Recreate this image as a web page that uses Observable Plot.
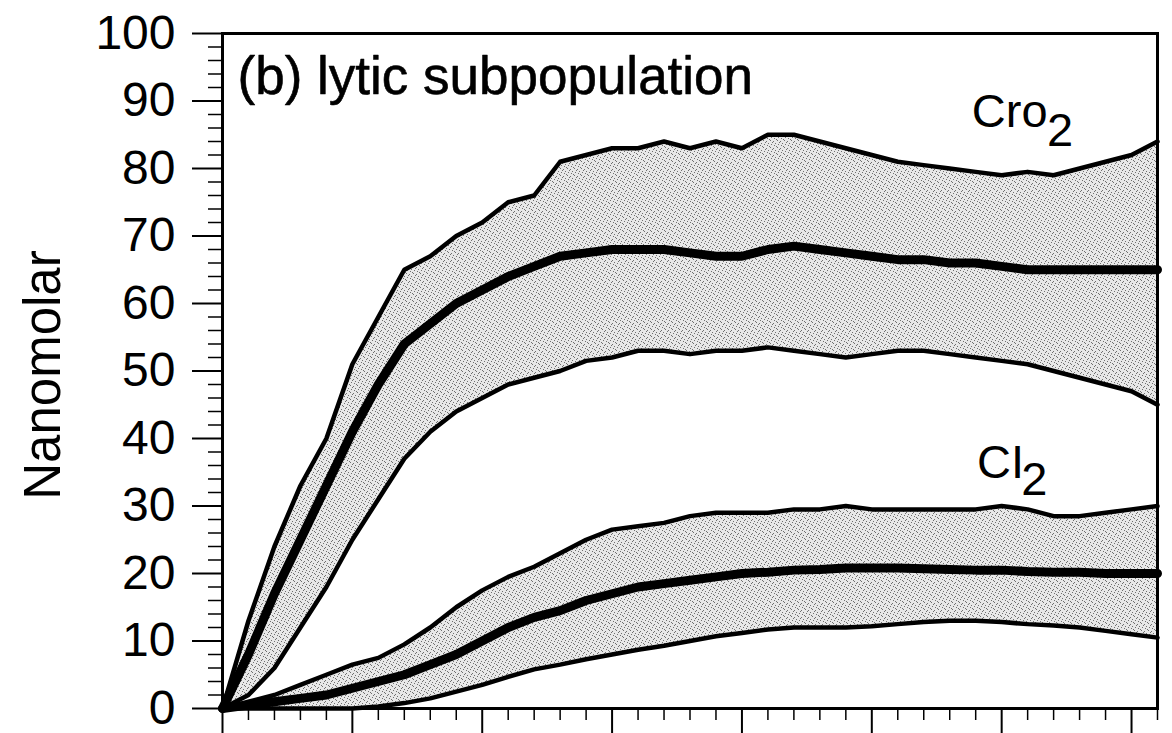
<!DOCTYPE html>
<html>
<head>
<meta charset="utf-8">
<script src="https://cdn.jsdelivr.net/npm/d3@7"></script>
<script src="https://cdn.jsdelivr.net/npm/@observablehq/plot@0.6"></script>
<style>
  html, body { margin: 0; padding: 0; background: #fff; }
  #chart { width: 1172px; height: 733px; }
</style>
</head>
<body>
<div id="chart"></div>
<script>
// time steps (arbitrary units, major tick every 5)
const time = d3.range(0, 37);

// Cro2 envelope (nM)
const croUpper = [0, 13, 24, 33, 40, 51, 58, 65, 67, 70, 72, 75, 76, 81, 82, 83, 83, 84, 83, 84, 83, 85, 85, 84, 83, 82, 81, 80.5, 80, 79.5, 79, 79.5, 79, 80, 81, 82, 84];
const croMean  = [0, 8, 17, 25, 33, 41, 48, 54, 57, 60, 62, 64, 65.5, 67, 67.5, 68, 68, 68, 67.5, 67, 67, 68, 68.5, 68, 67.5, 67, 66.5, 66.5, 66, 66, 65.5, 65, 65, 65, 65, 65, 65];
const croLower = [0, 2, 6, 12, 18, 25, 31, 37, 41, 44, 46, 48, 49, 50, 51.5, 52, 53, 53, 52.5, 53, 53, 53.5, 53, 52.5, 52, 52.5, 53, 53, 52.5, 52, 51.5, 51, 50, 49, 48, 47, 45];

// CI2 envelope (nM)
const ciUpper = [0, 1, 2, 3.5, 5, 6.5, 7.5, 9.5, 12, 15, 17.5, 19.5, 21, 23, 25, 26.5, 27, 27.5, 28.5, 29, 29, 29, 29.5, 29.5, 30, 29.5, 29.5, 29.5, 29.5, 29.5, 30, 29.5, 28.5, 28.5, 29, 29.5, 30];
const ciMean  = [0, 0.5, 1, 1.5, 2, 3, 4, 5, 6.5, 8, 10, 12, 13.5, 14.5, 16, 17, 18, 18.5, 19, 19.5, 20, 20.2, 20.5, 20.6, 20.8, 20.8, 20.8, 20.7, 20.6, 20.5, 20.5, 20.3, 20.2, 20.2, 20, 20, 20];
const ciLower = [0, 0, 0, 0, 0, 0, 0.3, 0.8, 1.5, 2.5, 3.5, 4.7, 5.8, 6.5, 7.3, 8, 8.7, 9.3, 10, 10.7, 11.2, 11.7, 12, 12, 12, 12.2, 12.5, 12.8, 13, 13, 12.8, 12.5, 12.3, 12, 11.5, 11, 10.5];

// axis ticks
const yMajor = d3.range(0, 101, 10);
const yMinor = d3.range(0, 101, 2).filter(v => v % 10 !== 0);
const xMajor = d3.range(0, 36, 5);
const xMinor = d3.range(0, 37, 1).filter(v => v % 5 !== 0);

// labels (text, x, y)
const labelText = ["Cro", "2", "CI", "2"];
const labelX    = [28.85, 31.75, 29.05, 30.75];
const labelY    = [86.1, 83.4, 34.1, 31.6];
const title = "(b) lytic subpopulation";
const yTitle = "Nanomolar";

const rows = time.map((t, i) => ({
  t, croUpper: croUpper[i], croMean: croMean[i], croLower: croLower[i],
  ciUpper: ciUpper[i], ciMean: ciMean[i], ciLower: ciLower[i]
}));
const labels = labelText.map((s, i) => ({ s, x: labelX[i], y: labelY[i] }));

const FONT = "'Liberation Sans', Arial, Helvetica, sans-serif";

function defs() {
  const ns = "http://www.w3.org/2000/svg";
  const d = document.createElementNS(ns, "defs");
  const p = document.createElementNS(ns, "pattern");
  p.setAttribute("id", "stipple");
  p.setAttribute("width", "7");
  p.setAttribute("height", "7");
  p.setAttribute("patternUnits", "userSpaceOnUse");
  const bg = document.createElementNS(ns, "rect");
  bg.setAttribute("width", "7"); bg.setAttribute("height", "7"); bg.setAttribute("fill", "#e8e8e8");
  p.appendChild(bg);
  const dots = [[0,0],[3,1],[5,3],[1,4],[4,5],[6,6],[2,2]];
  for (const [x, y] of dots) {
    const r = document.createElementNS(ns, "rect");
    r.setAttribute("x", x); r.setAttribute("y", y);
    r.setAttribute("width", "1"); r.setAttribute("height", "1");
    r.setAttribute("fill", "#707070");
    p.appendChild(r);
  }
  d.appendChild(p);
  return d;
}

const chart = Plot.plot({
  width: 1172,
  height: 733,
  marginLeft: 222,
  marginRight: 15,
  marginTop: 33,
  marginBottom: 25,
  style: { fontFamily: FONT, background: "#fff", color: "#000", overflow: "visible" },
  x: { domain: [0, 36] },
  y: { domain: [0, 100] },
  marks: [
    defs,
    Plot.areaY(rows, { x: "t", y1: "croLower", y2: "croUpper", fill: "url(#stipple)" }),
    Plot.areaY(rows, { x: "t", y1: "ciLower", y2: "ciUpper", fill: "url(#stipple)" }),
    Plot.lineY(rows, { x: "t", y: "croUpper", stroke: "#000", strokeWidth: 4.5 }),
    Plot.lineY(rows, { x: "t", y: "croLower", stroke: "#000", strokeWidth: 4.5 }),
    Plot.lineY(rows, { x: "t", y: "croMean", stroke: "#000", strokeWidth: 9 }),
    Plot.lineY(rows, { x: "t", y: "ciUpper", stroke: "#000", strokeWidth: 4.5 }),
    Plot.lineY(rows, { x: "t", y: "ciLower", stroke: "#000", strokeWidth: 4.5 }),
    Plot.lineY(rows, { x: "t", y: "ciMean", stroke: "#000", strokeWidth: 9 }),
    Plot.frame({ stroke: "#000", strokeWidth: 3 }),
    Plot.axisY({ ticks: yMajor, tickSize: 30, tickPadding: 17, fontSize: 48, strokeWidth: 2, label: null, tickFormat: d3.format("d") }),
    Plot.axisY({ ticks: yMinor, tickSize: 14, text: null, strokeWidth: 1.5, label: null }),
    Plot.axisX({ ticks: xMajor, tickSize: 30, text: null, strokeWidth: 2, label: null }),
    Plot.axisX({ ticks: xMinor, tickSize: 12, text: null, strokeWidth: 1.5, label: null }),
    Plot.text(labels, { x: "x", y: "y", text: "s", textAnchor: "start", lineAnchor: "bottom", fontSize: 47, fill: "#000" }),
    Plot.text([title], { frameAnchor: "top-left", text: d => d, textAnchor: "start", lineAnchor: "bottom", dx: 15, dy: 60, fontSize: 53, fill: "#000", stroke: "#000", strokeWidth: 0.6 })
  ]
});

const wrap = document.getElementById("chart");
wrap.style.position = "relative";
wrap.appendChild(chart);

// rotated y-axis title placed left of the chart
const yt = document.createElement("div");
yt.textContent = yTitle;
yt.style.cssText = `position:absolute;left:42px;top:375px;transform:translate(-50%,-50%) rotate(-90deg);font-family:${FONT};font-size:51px;white-space:nowrap;color:#000;line-height:1;`;
wrap.appendChild(yt);
</script>
</body>
</html>
